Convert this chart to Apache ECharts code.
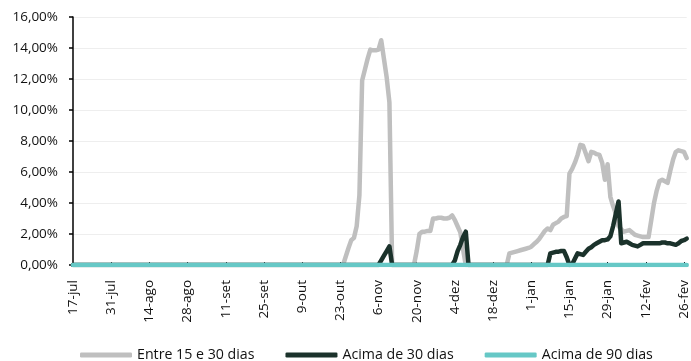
<!DOCTYPE html>
<html>
<head>
<meta charset="utf-8">
<script src="https://cdn.jsdelivr.net/npm/echarts@6/dist/echarts.min.js"></script>
<style>
  html, body { margin: 0; padding: 0; background: #fff; }
  #chart { width: 691px; height: 361px; }
</style>
</head>
<body>
<div id="chart"></div>
<script>
// eixo x: um ponto por dia, de 17-jul até 27-fev
const monthNames = ['jan', 'fev', 'mar', 'abr', 'mai', 'jun', 'jul', 'ago', 'set', 'out', 'nov', 'dez']
const startDate = Date.UTC(2020, 6, 17)
const dayCount = 226
const categories = []
for (let i = 0; i < dayCount; i++) {
  const d = new Date(startDate + i * 86400000)
  categories.push(d.getUTCDate() + '-' + monthNames[d.getUTCMonth()])
}

const yTicks = [0, 2, 4, 6, 8, 10, 12, 14, 16]

// valores em %, uma linha por quinzena (14 dias)
const entre15e30 = [
  0, 0, 0, 0, 0, 0, 0, 0, 0, 0, 0, 0, 0, 0,
  0, 0, 0, 0, 0, 0, 0, 0, 0, 0, 0, 0, 0, 0,
  0, 0, 0, 0, 0, 0, 0, 0, 0, 0, 0, 0, 0, 0,
  0, 0, 0, 0, 0, 0, 0, 0, 0, 0, 0, 0, 0, 0,
  0, 0, 0, 0, 0, 0, 0, 0, 0, 0, 0, 0, 0, 0,
  0, 0, 0, 0, 0, 0, 0, 0, 0, 0, 0, 0, 0, 0,
  0, 0, 0, 0, 0, 0, 0, 0, 0, 0, 0, 0, 0, 0,
  0, 0, 0.55, 1.1, 1.6, 1.75, 2.5, 4.5, 11.9, 12.6, 13.3, 13.9, 13.85, 13.85,
  13.9, 14.5, 13.3, 12.1, 10.5, 0, 0, 0, 0, 0, 0, 0, 0, 0,
  0.9, 2.0, 2.15, 2.15, 2.2, 2.2, 3.0, 3.0, 3.05, 3.05, 3.0, 3.0, 3.05, 3.2,
  2.9, 2.5, 2.1, 1.0, 0, 0, 0, 0, 0, 0, 0, 0, 0, 0,
  0, 0, 0, 0, 0, 0, 0.75, 0.8, 0.85, 0.9, 0.95, 1.0, 1.05, 1.1,
  1.18, 1.35, 1.5, 1.7, 1.95, 2.2, 2.35, 2.25, 2.6, 2.7, 2.8, 3.0, 3.1, 3.15,
  5.9, 6.2, 6.6, 7.1, 7.75, 7.7, 7.2, 6.7, 7.3, 7.25, 7.15, 7.1, 6.6, 5.5,
  6.5, 4.4, 3.8, 3.3, 2.5, 2.3, 2.15, 2.2, 2.25, 2.1, 1.95, 1.9, 1.85, 1.8,
  1.8, 1.8, 2.9, 4.0, 4.8, 5.4, 5.5, 5.4, 5.3, 6.1, 6.8, 7.3, 7.4, 7.35,
  7.3, 6.9
]

const acima30 = [
  0, 0, 0, 0, 0, 0, 0, 0, 0, 0, 0, 0, 0, 0,
  0, 0, 0, 0, 0, 0, 0, 0, 0, 0, 0, 0, 0, 0,
  0, 0, 0, 0, 0, 0, 0, 0, 0, 0, 0, 0, 0, 0,
  0, 0, 0, 0, 0, 0, 0, 0, 0, 0, 0, 0, 0, 0,
  0, 0, 0, 0, 0, 0, 0, 0, 0, 0, 0, 0, 0, 0,
  0, 0, 0, 0, 0, 0, 0, 0, 0, 0, 0, 0, 0, 0,
  0, 0, 0, 0, 0, 0, 0, 0, 0, 0, 0, 0, 0, 0,
  0, 0, 0, 0, 0, 0, 0, 0, 0, 0, 0, 0, 0, 0,
  0, 0.3, 0.6, 0.9, 1.2, 0, 0, 0, 0, 0, 0, 0, 0, 0,
  0, 0, 0, 0, 0, 0, 0, 0, 0, 0, 0, 0, 0, 0,
  0.3, 0.9, 1.3, 1.8, 2.15, 0, 0, 0, 0, 0, 0, 0, 0, 0,
  0, 0, 0, 0, 0, 0, 0, 0, 0, 0, 0, 0, 0, 0,
  0, 0, 0, 0, 0, 0, 0, 0.75, 0.8, 0.85, 0.86, 0.9, 0.9, 0.5,
  0, 0.05, 0.4, 0.75, 0.7, 0.65, 0.85, 1.05, 1.15, 1.3, 1.4, 1.5, 1.6, 1.6,
  1.65, 1.85, 2.5, 3.3, 4.1, 1.4, 1.45, 1.5, 1.4, 1.3, 1.25, 1.2, 1.3, 1.4,
  1.4, 1.4, 1.4, 1.4, 1.4, 1.4, 1.45, 1.45, 1.4, 1.4, 1.35, 1.3, 1.4, 1.55,
  1.6, 1.7
]

const acima90 = [
  0, 0, 0, 0, 0, 0, 0, 0, 0, 0, 0, 0, 0, 0,
  0, 0, 0, 0, 0, 0, 0, 0, 0, 0, 0, 0, 0, 0,
  0, 0, 0, 0, 0, 0, 0, 0, 0, 0, 0, 0, 0, 0,
  0, 0, 0, 0, 0, 0, 0, 0, 0, 0, 0, 0, 0, 0,
  0, 0, 0, 0, 0, 0, 0, 0, 0, 0, 0, 0, 0, 0,
  0, 0, 0, 0, 0, 0, 0, 0, 0, 0, 0, 0, 0, 0,
  0, 0, 0, 0, 0, 0, 0, 0, 0, 0, 0, 0, 0, 0,
  0, 0, 0, 0, 0, 0, 0, 0, 0, 0, 0, 0, 0, 0,
  0, 0, 0, 0, 0, 0, 0, 0, 0, 0, 0, 0, 0, 0,
  0, 0, 0, 0, 0, 0, 0, 0, 0, 0, 0, 0, 0, 0,
  0, 0, 0, 0, 0, 0, 0, 0, 0, 0, 0, 0, 0, 0,
  0, 0, 0, 0, 0, 0, 0, 0, 0, 0, 0, 0, 0, 0,
  0, 0, 0, 0, 0, 0, 0, 0, 0, 0, 0, 0, 0, 0,
  0, 0, 0, 0, 0, 0, 0, 0, 0, 0, 0, 0, 0, 0,
  0, 0, 0, 0, 0, 0, 0, 0, 0, 0, 0, 0, 0, 0,
  0, 0, 0, 0, 0, 0, 0, 0, 0, 0, 0, 0, 0, 0,
  0, 0
]

const font = "'Open Sans', sans-serif"

function lineSeries(name, data, color) {
  return {
    name: name,
    type: 'line',
    data: data,
    symbol: 'none',
    showSymbol: false,
    lineStyle: { color: color, width: 4.5, cap: 'round', join: 'round' },
    itemStyle: { color: color },
    emphasis: { disabled: true },
  }
}

const chart = echarts.init(document.getElementById('chart'))
chart.setOption({
  animation: false,
  textStyle: { fontFamily: font },
  grid: { left: 73, right: 2.2, top: 17, bottom: 96 },
  legend: {
    left: 75,
    top: 343,
    icon: 'roundRect',
    itemWidth: 52,
    itemHeight: 5,
    itemGap: 31,
    textStyle: { fontFamily: font, fontSize: 14.2, color: '#111' },
    data: ['Entre 15 e 30 dias', 'Acima de 30 dias', 'Acima de 90 dias'],
  },
  xAxis: {
    type: 'category',
    data: categories,
    boundaryGap: false,
    axisLine: { lineStyle: { color: '#000', width: 1 } },
    axisTick: { show: true, inside: true, length: 3, interval: 13, lineStyle: { color: '#000' } },
    axisLabel: {
      interval: 13,
      rotate: 90,
      margin: 15,
      fontFamily: font,
      fontSize: 13.5,
      color: '#111',
    },
    splitLine: { show: false },
  },
  yAxis: {
    type: 'value',
    min: yTicks[0],
    max: yTicks[yTicks.length - 1],
    interval: 2,
    axisLine: { show: true, lineStyle: { color: '#000', width: 1.5 } },
    axisTick: { show: true, length: 4, lineStyle: { color: '#000', width: 1.5 } },
    axisLabel: {
      margin: 15,
      fontFamily: font,
      fontSize: 13.5,
      color: '#111',
      formatter: v => v.toFixed(2).replace('.', ',') + '%',
    },
    splitLine: { lineStyle: { color: '#eeeeee', width: 1 } },
  },
  series: [
    lineSeries('Entre 15 e 30 dias', entre15e30, '#bfbfbf'),
    lineSeries('Acima de 30 dias', acima30, '#1b322b'),
    lineSeries('Acima de 90 dias', acima90, '#66c8c6'),
  ],
})
</script>
</body>
</html>
